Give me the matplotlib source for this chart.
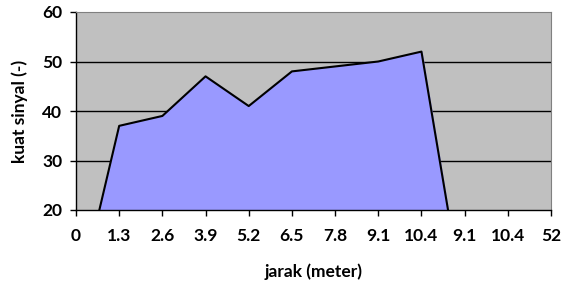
import matplotlib
matplotlib.use("Agg")
import matplotlib.pyplot as plt
import numpy as np

categories = ["0", "1.3", "2.6", "3.9", "5.2", "6.5", "7.8", "9.1", "10.4", "9.1", "10.4", "52"]
values = [0, 37, 39, 47, 41, 48, 49, 50, 52, 0, 0, 0]
y_ticks = [20, 30, 40, 50, 60]

plt.rcParams['font.family'] = ['Lato', 'DejaVu Sans']
fig = plt.figure(figsize=(5.72, 2.85), dpi=100)
ax = fig.add_axes([76/572, 1-210/285, (551-76)/572, (210-12)/285])
ax.set_facecolor('#C0C0C0')
x = np.arange(len(categories))
ax.fill_between(x[:10], values[:10], 0, color='#9999FF', zorder=2)
ax.plot(x[:10], values[:10], color='black', lw=1.5, zorder=3, clip_on=True)
ax.set_xlim(0, len(categories) - 1)
ax.set_ylim(20, 60)
ax.set_yticks(y_ticks)
ax.set_xticks(x)
ax.set_xticklabels(categories)
for yv in [30, 40, 50]:
    ax.axhline(yv, color='black', lw=1, zorder=1)
for s in ['top', 'right']:
    ax.spines[s].set_color('#808080')
for s in ['left', 'bottom']:
    ax.spines[s].set_color('black')
    ax.spines[s].set_linewidth(1)
ax.spines['bottom'].set_zorder(4)
ax.tick_params(axis='both', direction='out', length=4, width=1, colors='black', labelsize=12.5)
ax.tick_params(axis='x', pad=9)
ax.tick_params(axis='y', pad=6)
for lab in ax.get_xticklabels() + ax.get_yticklabels():
    lab.set_fontweight('bold')
ax.set_ylabel('kuat sinyal (-)', fontsize=12.5, fontweight='bold', labelpad=10)
ax.set_xlabel('jarak (meter)', fontsize=12.5, fontweight='bold', labelpad=14)
fig.savefig('out.png', dpi=100)
